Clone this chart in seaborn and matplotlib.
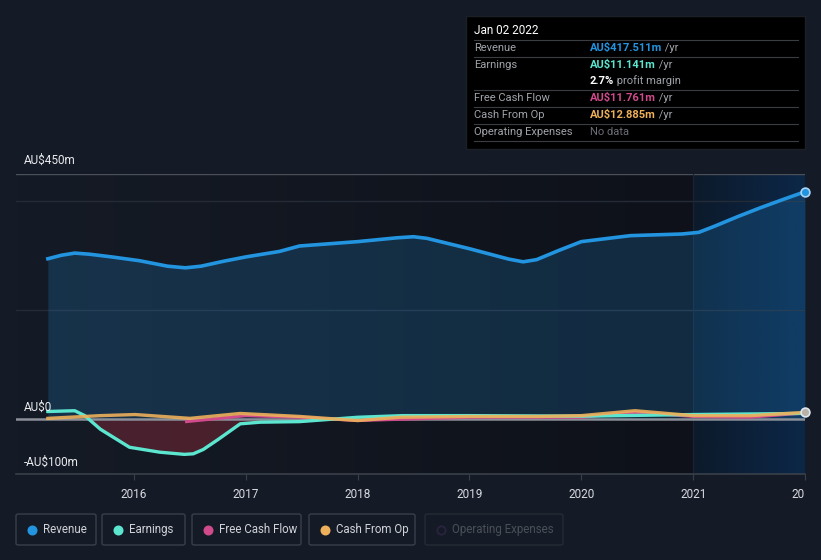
import numpy as np
import pandas as pd
import matplotlib
matplotlib.use('Agg')
import matplotlib.pyplot as plt
import seaborn as sns
from matplotlib.patches import Rectangle, FancyBboxPatch
from matplotlib.lines import Line2D
from matplotlib.transforms import Bbox

# values in AU$m, x in decimal years
rev_x = [2015.23, 2015.35, 2015.47, 2015.60, 2015.80, 2016.05, 2016.30, 2016.46, 2016.60, 2016.80,
         2017.0, 2017.30, 2017.48, 2018.0, 2018.35, 2018.50, 2018.62, 2019.0, 2019.35, 2019.48,
         2019.60, 2019.80, 2020.0, 2020.44, 2020.90, 2021.05, 2021.20, 2021.40, 2021.6, 2021.80, 2022.0]
revenue = [294.6, 301, 305, 303, 298, 291, 281, 278, 281, 290,
           298, 308, 318, 326, 333, 335, 332, 313, 294, 289,
           293, 310, 326, 337, 340, 343, 355, 372, 388, 403, 417.5]

earn_x = [2015.23, 2015.47, 2015.56, 2015.70, 2015.96, 2016.23, 2016.45, 2016.53, 2016.62, 2016.75,
          2016.95, 2017.13, 2017.48, 2018.0, 2018.4, 2019.0, 2020.0, 2021.0, 2022.0]
earnings = [14.6, 16, 7, -18, -51, -60, -64, -63, -55, -37, -8, -5, -4, 4, 7, 7, 6, 9, 11.1]

fcf_x = [2016.47, 2017.0, 2017.48, 2018.0, 2019.0, 2020.0, 2020.48, 2021.0, 2021.5, 2022.0]
fcf = [-4, 7, 4, -2, 4, 4, 13, 5.5, 4, 11.8]

cfo_x = [2015.23, 2015.70, 2016.01, 2016.50, 2016.95, 2017.48, 2018.0, 2018.38, 2019.0,
         2019.63, 2020.0, 2020.48, 2021.0, 2021.51, 2022.0]
cash_from_op = [2, 7, 9, 2, 11, 5.5, -2, 4, 5.5, 5.5, 7, 16, 7, 7, 12.9]

year_ticks = [2016, 2017, 2018, 2019, 2020, 2021, 2022]
year_labels = ['2016', '2017', '2018', '2019', '2020', '2021', '2022']

c_rev = '#2394df'
c_earn = '#5ce6d0'
c_fcf = '#d04a8c'
c_cfo = '#eeb05a'
bg = '#151b26'

W, H = 821, 560
fig = plt.figure(figsize=(W / 100, H / 100), dpi=100, facecolor=bg)
plt.rcParams['font.family'] = ['Roboto', 'DejaVu Sans']

def fx(x):
    return x / W

def fy(y):
    return 1 - y / H

x0, x1 = 2014.945, 2022.0
ax = fig.add_axes([fx(16), fy(474), fx(805) - fx(16), fy(174) - fy(474)])
ax.set_facecolor(bg)
ax.set_xlim(x0, x1)
ax.set_ylim(-100, 450)

# darkening background gradient up to 2021, highlighted span after
grad = np.linspace(0, 1, 256).reshape(1, -1)
dark = matplotlib.colors.LinearSegmentedColormap.from_list('d', ['#151b26', '#0e1119'])
ax.imshow(grad, extent=[x0, 2021.0, -100, 450], aspect='auto', cmap=dark, zorder=0)
hl = matplotlib.colors.LinearSegmentedColormap.from_list('h', ['#0c1a2b', '#0c2748'])
ax.imshow(grad, extent=[2021.0, x1, -100, 450], aspect='auto', cmap=hl, zorder=0)

# gridlines
for v, c in [(450, '#4a4f58'), (400, '#252b36'), (200, '#252b36')]:
    ax.axhline(v, color=c, lw=1, zorder=1)
ax.axvline(2021.0, color='#17243a', lw=0.8, zorder=1)

# revenue area
ax.fill_between(rev_x, revenue, 0, color=c_rev, alpha=0.2, lw=0, zorder=2)
# earnings negative area
ex = np.array(earn_x)
ey = np.array(earnings)
ax.fill_between(ex, ey, 0, where=ey < 0, interpolate=True, color='#8b2a3a', alpha=0.45, lw=0, zorder=2)

ax.axhline(0, color='#8a8f98', lw=1.8, zorder=3)

df_rev = pd.DataFrame({'x': rev_x, 'v': revenue})
df_earn = pd.DataFrame({'x': earn_x, 'v': earnings})
df_fcf = pd.DataFrame({'x': fcf_x, 'v': fcf})
df_cfo = pd.DataFrame({'x': cfo_x, 'v': cash_from_op})

sns.lineplot(data=df_rev, x='x', y='v', color=c_rev, lw=2.6, ax=ax, zorder=5)
sns.lineplot(data=df_fcf, x='x', y='v', color=c_fcf, lw=2.2, ax=ax, zorder=4)
sns.lineplot(data=df_earn, x='x', y='v', color=c_earn, lw=2.4, ax=ax, zorder=5)
sns.lineplot(data=df_cfo, x='x', y='v', color=c_cfo, lw=2.4, alpha=0.9, ax=ax, zorder=6)

ax.scatter([rev_x[-1]], [revenue[-1]], s=40, color=c_rev, edgecolor='#a9d4f5', lw=1.2, zorder=7, clip_on=False)
ax.scatter([cfo_x[-1]], [cash_from_op[-1]], s=40, color='#b9b2a6', edgecolor='#dfe6ee', lw=1.2, zorder=7, clip_on=False)

for s in ['top', 'right', 'left']:
    ax.spines[s].set_visible(False)
ax.spines['bottom'].set_color('#3a404a')
ax.spines['bottom'].set_linewidth(1.2)
ax.set_yticks([])
ax.set_xticks(year_ticks)
ax.set_xticklabels(year_labels)
ax.tick_params(axis='x', colors='#3a404a', labelcolor='#d8dbe0', labelsize=8.5, length=4, pad=6)
ax.set_xlabel('')
ax.set_ylabel('')
for lab in ax.get_xticklabels():
    if lab.get_text() == '2022':
        lab.set_clip_on(True)
        lab.set_clip_box(Bbox([[0, 0], [804, H]]))

# y labels
fig.text(fx(24), fy(160), 'AU$450m', color='#e8eaed', fontsize=8.5, va='center')
fig.text(fx(24), fy(407), 'AU$0', color='#e8eaed', fontsize=8.5, va='center')
fig.text(fx(24), fy(462), '-AU$100m', color='#e8eaed', fontsize=8.5, va='center')

# tooltip
fig.patches.append(Rectangle((fx(466), fy(149)), fx(805) - fx(466), fy(16) - fy(149),
                             transform=fig.transFigure, facecolor='#000000', edgecolor='#1b1f26', lw=1))
fig.text(fx(474), fy(30), 'Jan 02 2022', color='#ffffff', fontsize=8.5, va='center')
rows = [
    (48, 'Revenue', 'AU$417.511m', c_rev, ' /yr'),
    (65, 'Earnings', 'AU$11.141m', c_earn, ' /yr'),
    (98, 'Free Cash Flow', 'AU$11.761m', c_fcf, ' /yr'),
    (115, 'Cash From Op', 'AU$12.885m', c_cfo, ' /yr'),
    (132, 'Operating Expenses', 'No data', '#6a6e75', ''),
]
for y, name, val, col, suf in rows:
    fig.text(fx(474), fy(y), name, color='#a0a4aa', fontsize=8, va='center')
    t = fig.text(fx(590), fy(y), val, color=col, fontsize=8, va='center',
                 fontweight='bold' if suf else 'normal')
    if suf:
        fig.canvas.draw()
        bb = t.get_window_extent()
        fig.text(bb.x1 / W, fy(y), suf, color='#a0a4aa', fontsize=8, va='center')
t = fig.text(fx(590), fy(81), '2.7%', color='#ffffff', fontsize=8, va='center', fontweight='bold')
fig.canvas.draw()
bb = t.get_window_extent()
fig.text(bb.x1 / W, fy(81), ' profit margin', color='#a0a4aa', fontsize=8, va='center')
for y in [40, 57, 90, 107, 124, 141]:
    fig.add_artist(Line2D([fx(474), fx(798)], [fy(y), fy(y)], color='#3a3d42', lw=0.8,
                          transform=fig.transFigure))

# legend boxes
legend = [
    ('Revenue', c_rev, 16, 96, True),
    ('Earnings', c_earn, 102, 185, True),
    ('Free Cash Flow', c_fcf, 192, 301, True),
    ('Cash From Op', c_cfo, 309, 415, True),
    ('Operating Expenses', '#2a2440', 425, 563, False),
]
for name, col, l, r, on in legend:
    fig.patches.append(FancyBboxPatch((fx(l), fy(545)), fx(r) - fx(l), fy(514) - fy(545),
                                      boxstyle='round,pad=0,rounding_size=0.003',
                                      transform=fig.transFigure, facecolor=bg,
                                      edgecolor='#3a404a' if on else '#262b35', lw=1))
    fig.add_artist(Line2D([fx(l + 16)], [fy(529.5)], marker='o', ms=6,
                          markerfacecolor=col if on else 'none', markeredgecolor=col,
                          markeredgewidth=1.2, transform=fig.transFigure))
    fig.text(fx(l + 27), fy(529.5), name, color='#d0d3d8' if on else '#4a4f58', fontsize=8.3, va='center')

fig.savefig('out.png', dpi=100, facecolor=bg)
